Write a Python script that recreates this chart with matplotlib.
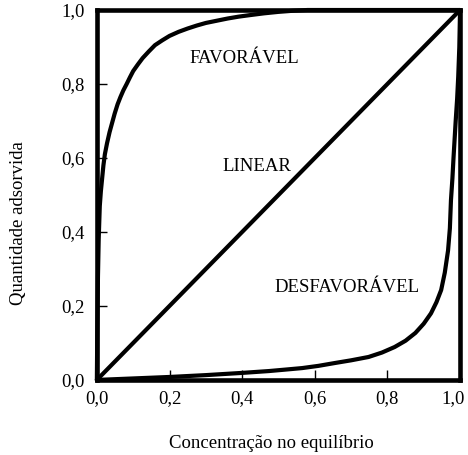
import matplotlib
matplotlib.use("Agg")
import matplotlib.pyplot as plt
from matplotlib.transforms import ScaledTranslation

plt.rcParams['font.family'] = ['Liberation Serif', 'DejaVu Serif']

# values
fav_x = [0, 0.001, 0.003, 0.005, 0.008, 0.011, 0.014, 0.018, 0.022, 0.028, 0.035,
         0.042, 0.049, 0.057, 0.065, 0.073, 0.082, 0.091, 0.10, 0.113, 0.126,
         0.143, 0.16, 0.18, 0.2, 0.225, 0.25, 0.275, 0.30, 0.33, 0.36, 0.39,
         0.42, 0.46, 0.5, 0.54, 0.58, 0.7, 0.85, 1.0]
fav_y = [0, 0.12, 0.28, 0.38, 0.47, 0.51, 0.54, 0.58, 0.61, 0.64, 0.67,
         0.695, 0.72, 0.745, 0.765, 0.783, 0.80, 0.818, 0.835, 0.853, 0.87,
         0.888, 0.905, 0.918, 0.93, 0.941, 0.95, 0.958, 0.965, 0.971, 0.977, 0.982,
         0.986, 0.991, 0.995, 0.998, 1.0, 1.0, 1.0, 1.0]

lin_x = [0, 1]
lin_y = [0, 1]

unf_x = [0, 0.1, 0.2, 0.3, 0.4, 0.474, 0.52, 0.565, 0.61, 0.657, 0.70, 0.748,
         0.785, 0.82, 0.85, 0.877, 0.90, 0.92, 0.935, 0.948, 0.958, 0.967,
         0.972, 0.975, 0.979, 0.982, 0.985, 0.988, 0.992, 0.995, 0.998, 1.0]
unf_y = [0, 0.004, 0.008, 0.013, 0.019, 0.024, 0.028, 0.032, 0.038, 0.046, 0.053, 0.062,
         0.074, 0.089, 0.106, 0.127, 0.152, 0.18, 0.21, 0.243, 0.29, 0.35,
         0.41, 0.486, 0.545, 0.6, 0.65, 0.7, 0.76, 0.82, 0.9, 1.0]

ticks = [0.0, 0.2, 0.4, 0.6, 0.8, 1.0]
tick_labels = ['0,0', '0,2', '0,4', '0,6', '0,8', '1,0']

fig = plt.figure(figsize=(4.68, 4.55), dpi=100)
ax = fig.add_axes([0.207, 0.165, 0.776, 0.813])

for x, y in [(fav_x, fav_y), (lin_x, lin_y), (unf_x, unf_y)]:
    ax.plot(x, y, color='black', lw=3, solid_joinstyle='round',
            solid_capstyle='round', clip_on=False)

ax.set_xlim(0, 1)
ax.set_ylim(0, 1)
ax.set_xticks(ticks)
ax.set_yticks(ticks)
ax.set_xticklabels(tick_labels)
ax.set_yticklabels(tick_labels)
ax.tick_params(direction='in', length=7, width=1, labelsize=13.5)
ax.tick_params(axis='x', pad=7)
ax.tick_params(axis='y', pad=9)
for s in ax.spines.values():
    s.set_linewidth(3.3)

# keep the last x tick label inside the picture
last = ax.get_xticklabels()[-1]
last.set_transform(last.get_transform() + ScaledTranslation(-5 / 72, 0, fig.dpi_scale_trans))

ax.text(0.405, 0.87, 'FAVORÁVEL', fontsize=13.5, ha='center', va='center')
ax.text(0.44, 0.578, 'LINEAR', fontsize=13.5, ha='center', va='center')
ax.text(0.69, 0.25, 'DESFAVORÁVEL', fontsize=13.5, ha='center', va='center')

ax.text(0.48, -0.172, 'Concentração no equilíbrio', fontsize=13.5,
        ha='center', va='center', transform=ax.transAxes)
ax.text(-0.215, 0.424, 'Quantidade adsorvida', fontsize=13.5, rotation=90,
        ha='center', va='center', transform=ax.transAxes)

fig.savefig('out.png', dpi=100)
